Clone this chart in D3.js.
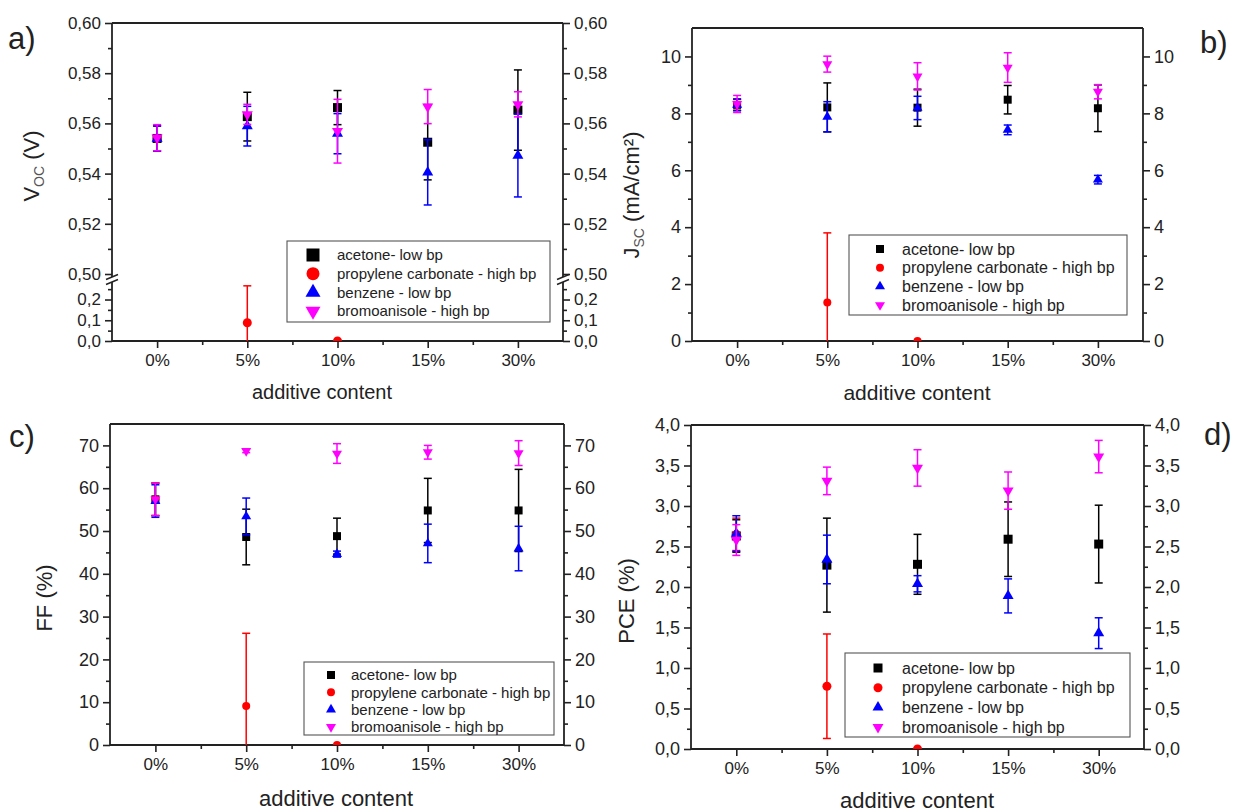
<!DOCTYPE html>
<html>
<head>
<meta charset="utf-8">
<script src="https://cdn.jsdelivr.net/npm/d3@7"></script>
<style>
  body { margin: 0; background: #fff; }
  svg { display: block; font-family: Arial, "Liberation Sans", sans-serif; }
</style>
</head>
<body>
<svg id="chart" width="1244" height="812"></svg>
<script>
// additive content on the x axis (shared by all four panels)
const categories = ['0%', '5%', '10%', '15%', '30%'];
const seriesNames = ['acetone- low bp', 'propylene carbonate - high bp', 'benzene - low bp', 'bromoanisole - high bp'];
const seriesColors = ['#000000', '#ff0000', '#0000ff', '#ff00ff'];
const seriesShapes = ['square', 'circle', 'up', 'down'];

// open circuit voltage (V); rows follow seriesNames
const vocValues = [
  [0.554, 0.5627, 0.5663, 0.5525, 0.5653],
  [0.554, 0.088, 0, null, null],
  [0.554, 0.5589, 0.5559, 0.5405, 0.5472],
  [0.5543, 0.5636, 0.5569, 0.5667, 0.5676]
];
const vocErrors = [
  [0.005, 0.0097, 0.0068, 0.015, 0.016],
  [0.005, 0.178, 0, null, null],
  [0.005, 0.0079, 0.008, 0.013, 0.0165],
  [0.0052, 0.004, 0.0127, 0.0068, 0.005]
];

// short circuit current density (mA/cm2)
const jscValues = [
  [8.3, 8.21, 8.2, 8.48, 8.18],
  [8.3, 1.35, 0, null, null],
  [8.3, 7.88, 8.19, 7.42, 5.67],
  [8.33, 9.73, 9.3, 9.61, 8.76]
];
const jscErrors = [
  [0.2, 0.86, 0.65, 0.5, 0.82],
  [0.2, 2.45, 0, null, null],
  [0.2, 0.53, 0.41, 0.17, 0.15],
  [0.3, 0.28, 0.48, 0.52, 0.25]
];

// fill factor (%)
const ffValues = [
  [57.4, 48.6, 48.8, 54.8, 54.8],
  [57.4, 9.1, 0, null, null],
  [57.0, 53.4, 44.6, 47.1, 45.9],
  [57.4, 68.7, 68.1, 68.4, 68.2]
];
const ffErrors = [
  [3.8, 6.5, 4.2, 7.5, 9.6],
  [3.8, 17, 0, null, null],
  [3.8, 4.3, 0.7, 4.5, 5.2],
  [3.8, 0.4, 2.3, 1.6, 2.9]
];

// power conversion efficiency (%)
const pceValues = [
  [2.63, 2.27, 2.28, 2.59, 2.53],
  [2.65, 0.775, 0, null, null],
  [2.66, 2.34, 2.04, 1.89, 1.43],
  [2.58, 3.31, 3.47, 3.19, 3.61]
];
const pceErrors = [
  [0.2, 0.58, 0.37, 0.46, 0.48],
  [0.2, 0.645, 0, null, null],
  [0.22, 0.3, 0.1, 0.21, 0.19],
  [0.19, 0.17, 0.225, 0.23, 0.2]
];

// tick values
const vocUpperTicks = [0.50, 0.52, 0.54, 0.56, 0.58, 0.60];
const vocUpperMinor = [0.51, 0.53, 0.55, 0.57, 0.59];
const vocLowerTicks = [0, 0.1, 0.2];
const vocLowerMinor = [0.05, 0.15, 0.25];
const jscTicks = [0, 2, 4, 6, 8, 10];
const jscMinor = [1, 3, 5, 7, 9];
const ffTicks = [0, 10, 20, 30, 40, 50, 60, 70];
const ffMinor = [5, 15, 25, 35, 45, 55, 65];
const pceTicks = [0, 0.5, 1, 1.5, 2, 2.5, 3, 3.5, 4];
const pceMinor = [0.25, 0.75, 1.25, 1.75, 2.25, 2.75, 3.25, 3.75];

const svg = d3.select('#chart');
const ink = '#222';
const locale = d3.formatLocale({ decimal: ',', thousands: '.', grouping: [3], currency: ['', ''] });
let clipId = 0;

function markerPath(shape, px) {
  if (shape === 'square') return d3.symbol(d3.symbolSquare, px * px)();
  if (shape === 'circle') return d3.symbol(d3.symbolCircle, Math.PI * px * px / 4)();
  return d3.symbol(d3.symbolTriangle, Math.sqrt(3) / 4 * px * px)();
}

function drawMarker(g, shape, color, cx, cy, px) {
  const p = g.append('path')
    .attr('d', markerPath(shape, px))
    .attr('fill', color)
    .attr('transform', `translate(${cx},${cy})` + (shape === 'down' ? ' rotate(180)' : ''));
  return p;
}

function styleAxis(a, fontSize) {
  a.select('.domain').remove();
  a.attr('font-family', null).attr('font-size', fontSize);
  a.selectAll('line').attr('stroke', ink).attr('stroke-width', 1.6);
  a.selectAll('text').attr('fill', ink);
}

function drawYAxis(g, scale, majors, minors, fmt, xPos, side, fontSize) {
  const make = side === 'left' ? d3.axisLeft : d3.axisRight;
  g.append('g').attr('transform', `translate(${xPos},0)`)
    .call(make(scale).tickValues(majors).tickFormat(fmt).tickSize(7).tickPadding(4))
    .call(a => styleAxis(a, fontSize));
  g.append('g').attr('transform', `translate(${xPos},0)`)
    .call(make(scale).tickValues(minors).tickFormat('').tickSize(4))
    .call(a => styleAxis(a, fontSize));
}

function drawPanel(cfg) {
  const g = svg.append('g');
  const x = d3.scaleLinear().domain([-0.5, categories.length - 0.5]).range([cfg.left, cfg.right]);

  // x axis, major ticks at categories and minor ticks between them
  g.append('g').attr('transform', `translate(0,${cfg.bottom})`)
    .call(d3.axisBottom(x).tickValues(d3.range(categories.length)).tickFormat(i => categories[i]).tickSize(7).tickPadding(6))
    .call(a => styleAxis(a, 17));
  g.append('g').attr('transform', `translate(0,${cfg.bottom})`)
    .call(d3.axisBottom(x).tickValues(d3.range(categories.length - 1).map(i => i + 0.5)).tickFormat('').tickSize(4))
    .call(a => styleAxis(a, 17));

  // y axes on both sides
  cfg.yAxes.forEach(ax => {
    drawYAxis(g, ax.scale, ax.ticks, ax.minor, ax.format, cfg.left, 'left', cfg.tickFont);
    drawYAxis(g, ax.scale, ax.ticks, ax.minor, ax.format, cfg.right, 'right', cfg.tickFont);
  });

  // frame
  const frame = g.append('g').attr('stroke', ink).attr('stroke-width', 1.8).attr('fill', 'none');
  frame.append('line').attr('x1', cfg.left).attr('x2', cfg.right).attr('y1', cfg.top).attr('y2', cfg.top);
  frame.append('line').attr('x1', cfg.left).attr('x2', cfg.right).attr('y1', cfg.bottom).attr('y2', cfg.bottom);
  cfg.segments.forEach(([y0, y1]) => {
    [cfg.left, cfg.right].forEach(xx => {
      frame.append('line').attr('x1', xx).attr('x2', xx).attr('y1', y0).attr('y2', y1);
    });
  });
  (cfg.breaks || []).forEach(by => {
    [cfg.left, cfg.right].forEach(xx => {
      frame.append('line').attr('x1', xx - 6).attr('x2', xx + 6).attr('y1', by + 2.5).attr('y2', by - 2.5).attr('stroke-width', 1.4);
    });
  });

  // data
  const id = 'clip' + (clipId++);
  g.append('clipPath').attr('id', id).append('rect')
    .attr('x', cfg.left).attr('y', cfg.top).attr('width', cfg.right - cfg.left).attr('height', cfg.bottom - cfg.top);
  const marks = g.append('g').attr('clip-path', `url(#${id})`);
  cfg.values.forEach((row, s) => {
    const color = seriesColors[s];
    row.forEach((v, i) => {
      if (v === null) return;
      const e = cfg.errors[s][i];
      const cx = x(i);
      if (e) {
        const yTop = cfg.y(v + e, v), yBot = cfg.y(v - e, v);
        const eb = marks.append('g').attr('stroke', color).attr('stroke-width', 1.5);
        eb.append('line').attr('x1', cx).attr('x2', cx).attr('y1', yTop).attr('y2', yBot);
        [yTop, yBot].forEach(yy => {
          eb.append('line').attr('x1', cx - 4).attr('x2', cx + 4).attr('y1', yy).attr('y2', yy);
        });
      }
      drawMarker(marks, seriesShapes[s], color, cx, cfg.y(v, v), cfg.markerPx[s]);
    });
  });

  // legend
  const L = cfg.legend;
  const lg = g.append('g');
  lg.append('rect').attr('x', L.x).attr('y', L.y).attr('width', L.w).attr('height', L.h)
    .attr('fill', '#fff').attr('stroke', '#555').attr('stroke-width', 1.1);
  seriesNames.forEach((name, s) => {
    const ry = L.row0 + s * L.step;
    drawMarker(lg, seriesShapes[s], seriesColors[s], L.mx, ry, L.px[s]);
    lg.append('text').attr('x', L.tx).attr('y', ry).attr('dy', '0.35em')
      .attr('font-size', L.font).attr('fill', ink).text(name);
  });

  // axis titles
  g.append('text')
    .attr('x', cfg.xTitle[0]).attr('y', cfg.xTitle[1])
    .attr('text-anchor', 'middle').attr('font-size', cfg.xTitle[2]).attr('fill', ink)
    .text('additive content');
  const yt = g.append('text')
    .attr('transform', `translate(${cfg.yTitle[0]},${cfg.yTitle[1]}) rotate(-90)`)
    .attr('text-anchor', 'middle').attr('font-size', 22).attr('fill', ink);
  cfg.yTitleParts.forEach(p => {
    const t = yt.append('tspan').text(p.text);
    if (p.sub) t.attr('font-size', 14).attr('dy', 5).attr('fill', '#555');
    if (p.after) t.attr('dy', -5);
  });

  // panel letter
  g.append('text').attr('x', cfg.letter[0]).attr('y', cfg.letter[1])
    .attr('font-size', 31).attr('fill', ink).text(cfg.letter[2]);
}

// a) open circuit voltage with a broken axis
const vocUpper = d3.scaleLinear().domain([0.5, 0.6]).range([274, 23]);
const vocLower = d3.scaleLinear().domain([0, 0.27]).range([341, 285]);
const fmt2 = locale.format('.2f');
const fmt1 = locale.format('.1f');

drawPanel({
  left: 112, right: 563, top: 23, bottom: 341, tickFont: 17,
  yAxes: [
    { scale: vocUpper, ticks: vocUpperTicks, minor: vocUpperMinor, format: fmt2 },
    { scale: vocLower, ticks: vocLowerTicks, minor: vocLowerMinor, format: fmt1 }
  ],
  segments: [[23, 277], [282, 341]],
  breaks: [277, 282],
  y: (v, ref) => ref >= 0.4 ? vocUpper(v) : vocLower(v),
  values: vocValues, errors: vocErrors,
  markerPx: [9, 9, 11, 11],
  legend: { x: 287, y: 241, w: 263, h: 81, mx: 313, tx: 337, row0: 255, step: 18.7, font: 15, px: [13, 13, 15, 15] },
  xTitle: [322, 399, 20],
  yTitle: [39, 166],
  yTitleParts: [{ text: 'V' }, { text: 'OC', sub: true }, { text: ' (V)', after: true }],
  letter: [8, 49, 'a)']
});

// b) short circuit current density
const jscY = d3.scaleLinear().domain([0, 11]).range([341, 28]);
drawPanel({
  left: 692, right: 1143, top: 28, bottom: 341, tickFont: 18,
  yAxes: [{ scale: jscY, ticks: jscTicks, minor: jscMinor, format: d3.format('d') }],
  segments: [[28, 341]],
  y: v => jscY(v),
  values: jscValues, errors: jscErrors,
  markerPx: [8, 8, 10, 10],
  legend: { x: 849, y: 235, w: 278, h: 80, mx: 880, tx: 902, row0: 249, step: 18.7, font: 16, px: [8, 8, 10, 10] },
  xTitle: [917, 400, 21],
  yTitle: [639, 195],
  yTitleParts: [{ text: 'J' }, { text: 'SC', sub: true }, { text: ' (mA/cm²)', after: true }],
  letter: [1200, 53, 'b)']
});

// c) fill factor
const ffY = d3.scaleLinear().domain([0, 75]).range([745, 424]);
drawPanel({
  left: 110, right: 564, top: 424, bottom: 745, tickFont: 18,
  yAxes: [{ scale: ffY, ticks: ffTicks, minor: ffMinor, format: d3.format('d') }],
  segments: [[424, 745]],
  y: v => ffY(v),
  values: ffValues, errors: ffErrors,
  markerPx: [8, 8, 10, 10],
  legend: { x: 304, y: 662, w: 250, h: 73, mx: 331, tx: 351, row0: 675, step: 17.3, font: 15, px: [8, 8, 10, 10] },
  xTitle: [336, 806, 22],
  yTitle: [52, 598],
  yTitleParts: [{ text: 'FF (%)' }],
  letter: [9, 447, 'c)']
});

// d) power conversion efficiency
const pceY = d3.scaleLinear().domain([0, 4]).range([749, 425]);
drawPanel({
  left: 691, right: 1144, top: 425, bottom: 749, tickFont: 18,
  yAxes: [{ scale: pceY, ticks: pceTicks, minor: pceMinor, format: fmt1 }],
  segments: [[425, 749]],
  y: v => pceY(v),
  values: pceValues, errors: pceErrors,
  markerPx: [9, 9, 11, 11],
  legend: { x: 845, y: 653, w: 285, h: 84, mx: 878, tx: 902, row0: 668, step: 19.7, font: 16, px: [9, 9, 11, 11] },
  xTitle: [917, 808, 22],
  yTitle: [634, 601],
  yTitleParts: [{ text: 'PCE (%)' }],
  letter: [1204, 445, 'd)']
});
</script>
</body>
</html>
